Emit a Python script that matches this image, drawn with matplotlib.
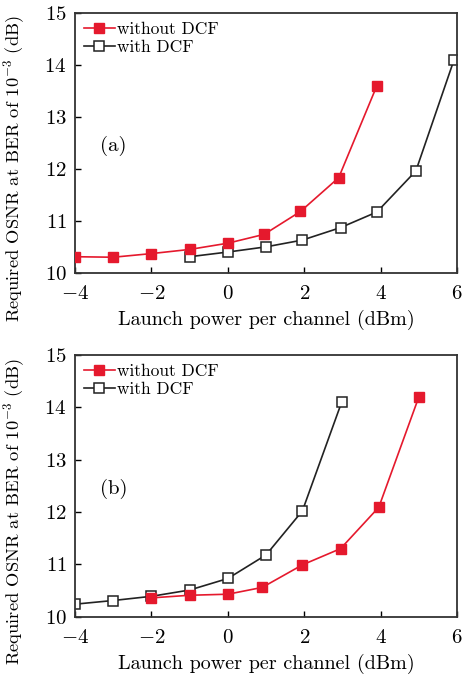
import numpy as np
import matplotlib.pyplot as plt

plt.rcParams['font.family'] = 'serif'
plt.rcParams['font.serif'] = ['cmr10']
plt.rcParams['mathtext.fontset'] = 'cm'
plt.rcParams['axes.formatter.use_mathtext'] = True

RED = '#e5192d'

# (a) launch power sweep
a_x_wo = [-4, -3, -2, -1, 0, 0.95, 1.9, 2.9, 3.9]
a_y_wo = [10.31, 10.30, 10.37, 10.45, 10.57, 10.74, 11.18, 11.83, 13.60]
a_x_w = [-1, 0, 1, 1.95, 2.95, 3.9, 4.92, 5.92]
a_y_w = [10.31, 10.40, 10.50, 10.63, 10.87, 11.17, 11.96, 14.10]

# (b) launch power sweep
b_x_wo = [-2, -1, 0, 0.9, 1.95, 2.95, 3.95, 5.0]
b_y_wo = [10.36, 10.41, 10.43, 10.56, 10.99, 11.30, 12.09, 14.20]
b_x_w = [-4, -3, -2, -1, 0, 1, 1.95, 2.98]
b_y_w = [10.24, 10.31, 10.39, 10.51, 10.73, 11.18, 12.02, 14.10]

panels = [
    ('(a)', a_x_wo, a_y_wo, a_x_w, a_y_w, [0.161, 0.597, 0.820, 0.384]),
    ('(b)', b_x_wo, b_y_wo, b_x_w, b_y_w, [0.161, 0.089, 0.820, 0.387]),
]

fig = plt.figure(figsize=(4.66, 6.77), dpi=100)

for tag, xwo, ywo, xw, yw, rect in panels:
    ax = fig.add_axes(rect)
    ax.plot(xwo, ywo, '-s', color=RED, lw=1.2, ms=6.5,
            mfc=RED, mec=RED, label='without DCF', zorder=3)
    ax.plot(xw, yw, '-s', color='#222222', lw=1.2, ms=6.5,
            mfc='white', mec='#222222', mew=1.1, label='with DCF', zorder=2)
    ax.set_xlim(-4, 6)
    ax.set_ylim(10, 15)
    ax.set_xticks([-4, -2, 0, 2, 4, 6])
    ax.set_yticks([10, 11, 12, 13, 14, 15])
    ax.tick_params(direction='in', length=4, width=1.0, labelsize=15,
                   top=False, right=False)
    ax.tick_params(axis='x', pad=9)
    ax.tick_params(axis='y', pad=6)
    for s in ax.spines.values():
        s.set_linewidth(1.3)
        s.set_color('#333333')
    ax.set_xlabel('Launch power per channel (dBm)', fontsize=14.5, labelpad=5)
    ax.set_ylabel('Required OSNR at BER of 10$^{-3}$ (dB)', fontsize=13.3)
    ax.yaxis.set_label_coords(-0.125, 0.40)
    ax.text(-3.35, 12.44, tag, fontsize=15, va='center')
    ax.legend(loc='upper left', frameon=False, fontsize=12.5,
              handlelength=1.8, handletextpad=0.1, labelspacing=0.15,
              borderaxespad=0.3, borderpad=0.2)

fig.savefig('out.png', dpi=100)
